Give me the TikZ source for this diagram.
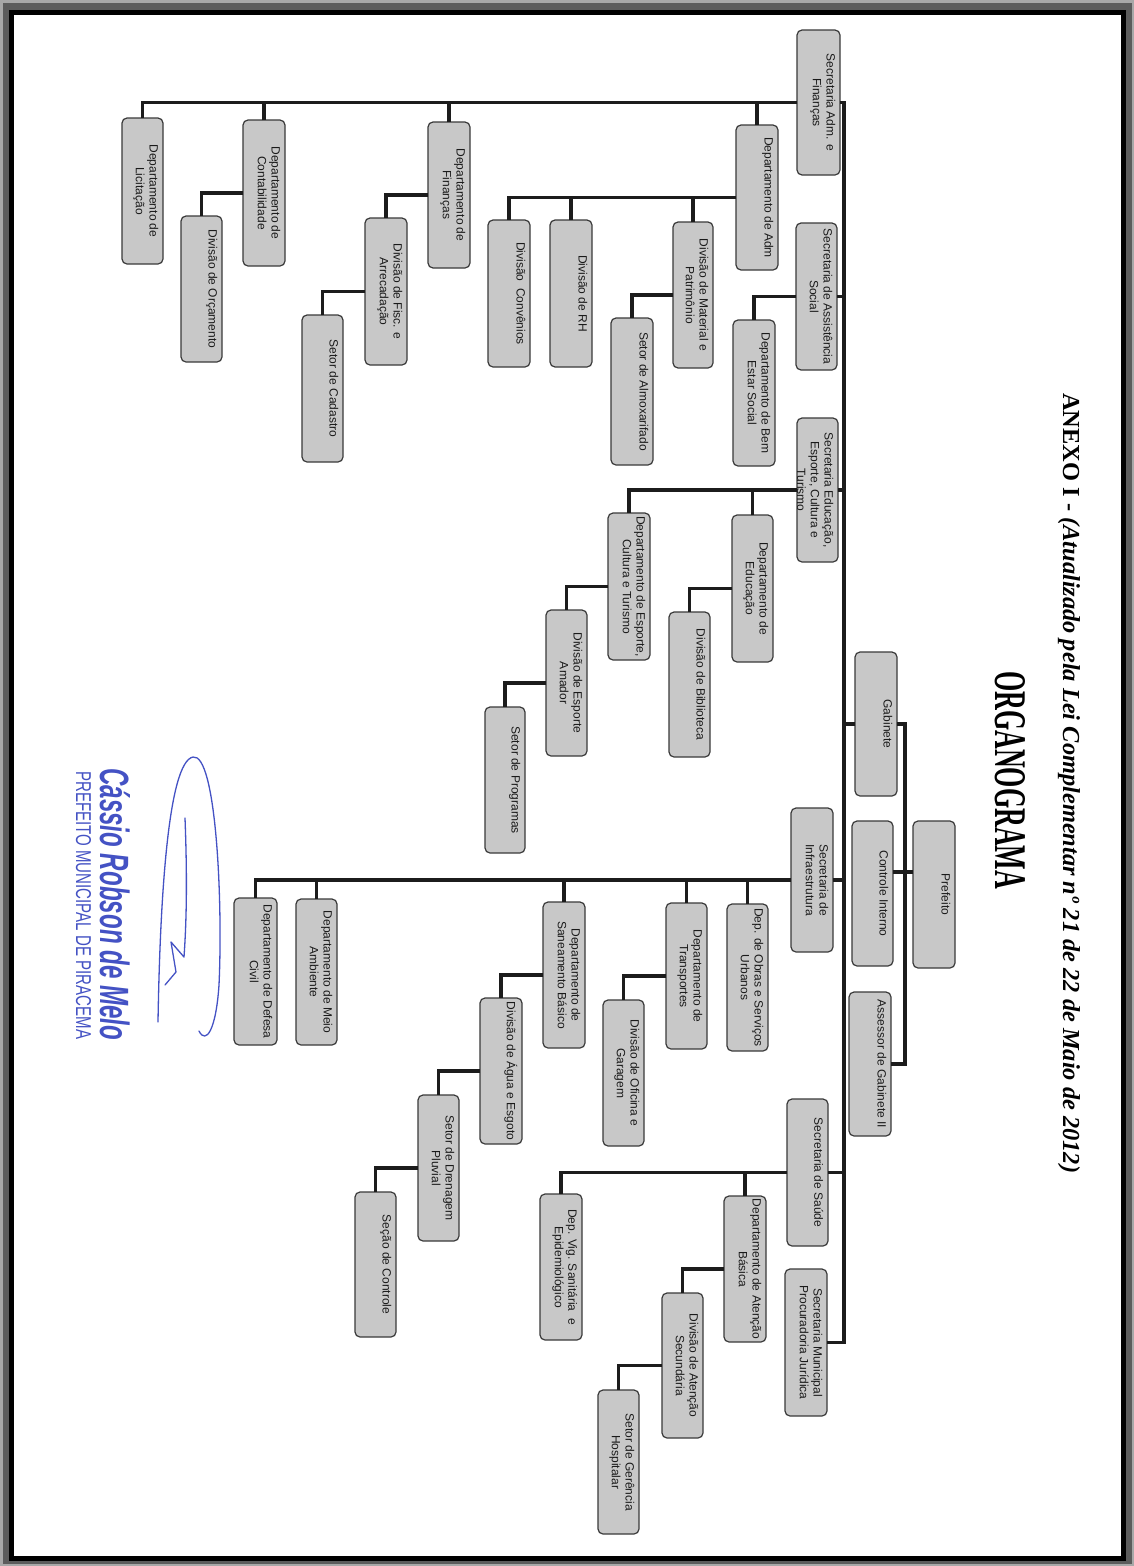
\documentclass[tikz,border=0pt]{standalone}
\usepackage{fontspec}
\setmainfont{Liberation Serif}
\newfontfamily\arialf{Liberation Sans}
\usepackage{graphicx}
\definecolor{boxfill}{HTML}{C8C8C8}
\definecolor{boxline}{HTML}{3A3A3A}
\definecolor{textc}{HTML}{1A1A1A}
\definecolor{linec}{HTML}{1C1C1C}
\definecolor{sigblue}{HTML}{4452C4}
\definecolor{framelight}{HTML}{A8A8A8}
\definecolor{framedark}{HTML}{5C5C5C}
\tikzset{
 bx/.style={draw=boxline, fill=boxfill, line width=1.2pt, rounded corners=5pt, inner sep=0pt, outer sep=0pt},
 tx/.style={rotate=-90, anchor=north, inner sep=0pt, align=center, font=\arialf\fontsize{12}{13.7}\selectfont, text=textc},
 conn/.style={draw=linec, line width=3.2pt},
}
\newcommand\obox[6]{%
 \pgfmathsetmacro\obcx{(#2+#3)/2}%
 \pgfmathsetmacro\obcy{(#4+#5)/2}%
 \pgfmathsetmacro\obw{#3-#2}%
 \pgfmathsetmacro\obh{#5-#4}%
 \node[bx, minimum width=\obw pt, minimum height=\obh pt] (#1) at (\obcx,\obcy) {};
 \begin{scope}
 \clip[rounded corners=5pt] (#1.south west) rectangle (#1.north east);
 \node[tx] (#1t) at ([xshift=-4.5pt]#1.east) {#6};
 \end{scope}}
\begin{document}
\begin{tikzpicture}[x=1pt,y=-1pt]
\useasboundingbox (0,0) rectangle (1134,1566);
% frame
\fill[framelight] (0,0) rectangle (1134,1566);
\fill[framedark] (3,3) rectangle (1132,1564);
\fill[black] (9,10) rectangle (1126,1561);
\fill[white] (14,15) rectangle (1121,1556);

% titles
\node[rotate=-90, anchor=base west, inner sep=0pt] (title) at (1063,393)
 {\resizebox{780pt}{!}{\bfseries ANEXO I - \itshape(Atualizado pela Lei Complementar nº 21 de 22 de Maio de 2012)}};
\node[rotate=-90, anchor=base west, inner sep=0pt] (org) at (995,671)
 {\resizebox{218pt}{30pt}{\bfseries ORGANOGRAMA}};

% top level
\obox{pref}{913}{955}{821}{968}{Prefeito}
\obox{gab}{855}{897}{652}{796}{Gabinete}
\obox{ctrl}{852}{893}{821}{966}{Controle Interno}
\obox{ass}{849}{891}{992}{1136}{Assessor de Gabinete II}

% secretarias
\obox{sAdm}{797}{840}{30}{175}{Secretaria Adm. e\\Finanças}
\obox{sAss}{796}{837}{223}{370}{Secretaria de Assistência\\Social}
\obox{sEdu}{797}{838}{418}{562}{Secretaria Educação,\\Esporte, Cultura e\\Turismo}
\obox{sInf}{791}{833}{808}{952}{Secretaria de\\Infraestrutura}
\obox{sSau}{787}{828}{1099}{1246}{Secretaria de Saúde}
\obox{sProc}{785}{827}{1269}{1416}{Secretaria Municipal\\Procuradoria Jurídica}

% Adm e Finanças
\obox{dLic}{122}{163}{118}{264}{Departamento de\\Licitação}
\obox{dCont}{243}{285}{120}{266}{Departamento de\\Contabilidade}
\obox{dOrc}{181}{222}{216}{362}{Divisão de Orçamento}
\obox{dFin}{428}{470}{122}{268}{Departamento de\\Finanças}
\obox{dFisc}{365}{407}{218}{365}{Divisão de Fisc. e\\Arrecadação}
\obox{sCad}{302}{343}{315}{462}{Setor de Cadastro}
\obox{dAdm}{736}{778}{125}{270}{Departamento de Adm}
\obox{dConv}{488}{530}{220}{367}{Divisão\ \ Convênios}
\obox{dRH}{550}{592}{220}{367}{Divisão de RH}
\obox{dMat}{673}{713}{222}{368}{Divisão de Material e\\Patrimônio}
\obox{sAlm}{611}{653}{318}{465}{Setor de Almoxarifado}
\obox{dBem}{733}{775}{320}{466}{Departamento de Bem\\Estar Social}

% Educacao
\obox{dEdu}{732}{773}{515}{662}{Departamento de\\Educação}
\obox{dBib}{669}{710}{612}{757}{Divisão de Biblioteca}
\obox{dEsp}{608}{650}{513}{660}{Departamento de Esporte,\\Cultura e Turismo}
\obox{dAma}{546}{587}{610}{756}{Divisão de Esporte\\Amador}
\obox{sProg}{485}{525}{707}{853}{Setor de Programas}

% Infraestrutura
\obox{dObr}{727}{768}{904}{1051}{Dep. de Obras e Serviços\\Urbanos}
\obox{dTra}{666}{707}{903}{1049}{Departamento de\\Transportes}
\obox{dOfi}{603}{644}{1000}{1146}{Divisão de Oficina e\\Garagem}
\obox{dSan}{543}{585}{902}{1048}{Departamento de\\Saneamento Básico}
\obox{dAgu}{480}{522}{998}{1144}{Divisão de Água e Esgoto}
\obox{sDre}{418}{459}{1095}{1241}{Setor de Drenagem\\Pluvial}
\obox{sCon}{355}{396}{1192}{1337}{Seção de Controle}
\obox{dMei}{296}{337}{899}{1045}{Departamento de Meio\\Ambiente}
\obox{dDef}{234}{277}{898}{1045}{Departamento de Defesa\\Civil}

% Saude
\obox{dAte}{724}{766}{1196}{1342}{Departamento de Atenção\\Básica}
\obox{dSec}{662}{703}{1293}{1438}{Divisão de Atenção\\Secundária}
\obox{sGer}{598}{639}{1390}{1534}{Setor de Gerência\\Hospitalar}
\obox{dVig}{540}{582}{1194}{1340}{Dep. Vig. Sanitária\ \ e\\Epidemiológico}

% connectors: trunk
\coordinate (tk) at (844,0);
\coordinate (tk2) at (905,0);
\coordinate (jP) at (905,872);
\draw[conn] (sAdm.east) -- (sAdm.east -| tk) -- (sProc.east -| tk) -- (sProc.east);
\foreach \n in {sAss,sEdu,sInf,sSau} \draw[conn] (\n.east) -- (\n.east -| tk);
\draw[conn] (gab.west) -- (gab.west -| tk);
\draw[conn] (gab.east) -- (gab.east -| tk2) -- (ass.east -| tk2) -- (ass.east);
\draw[conn] (ctrl.east |- jP) -- (pref.west |- jP);

% Adm branch
\draw[conn] (sAdm.west) -| (dLic.north);
\foreach \n in {dCont,dFin,dAdm} \draw[conn] (\n.north) -- (\n.north |- sAdm.west);
\draw[conn] (dCont.west) -| (dOrc.north);
\draw[conn] (dFin.west) -| (dFisc.north);
\draw[conn] (dFisc.west) -| (sCad.north);
\draw[conn] (dAdm.west) -| (dConv.north);
\foreach \n in {dRH,dMat} \draw[conn] (\n.north) -- (\n.north |- dAdm.west);
\draw[conn] (dMat.west) -| (sAlm.north);
\draw[conn] (sAss.west) -| (dBem.north);

% Edu branch
\draw[conn] (sEdu.west) -| (dEsp.north);
\draw[conn] (dEdu.north) -- (dEdu.north |- sEdu.west);
\draw[conn] (dEdu.west) -| (dBib.north);
\draw[conn] (dEsp.west) -| (dAma.north);
\draw[conn] (dAma.west) -| (sProg.north);

% Infra branch
\draw[conn] (sInf.west) -| (dDef.north);
\foreach \n in {dObr,dTra,dSan,dMei} \draw[conn] (\n.north) -- (\n.north |- sInf.west);
\draw[conn] (dTra.west) -| (dOfi.north);
\draw[conn] (dSan.west) -| (dAgu.north);
\draw[conn] (dAgu.west) -| (sDre.north);
\draw[conn] (sDre.west) -| (sCon.north);

% Saude branch
\draw[conn] (sSau.west) -| (dVig.north);
\draw[conn] (dAte.north) -- (dAte.north |- sSau.west);
\draw[conn] (dAte.west) -| (dSec.north);
\draw[conn] (dSec.west) -| (sGer.north);

% signature stamp
\node[rotate=-90, anchor=base west, inner sep=0pt, text=sigblue] (sig1) at (100,768)
 {\resizebox{272pt}{30pt}{\arialf\bfseries\itshape Cássio Robson de Melo}};
\node[rotate=-90, anchor=base west, inner sep=0pt, text=sigblue] (sig2) at (76,771)
 {\resizebox{268pt}{15pt}{\arialf PREFEITO MUNICIPAL DE PIRACEMA}};
\draw[sigblue, line width=1.3pt, line cap=round, line join=round]
 (158,1022) .. controls (160,900) and (168,762) .. (193,757)
 .. controls (216,753) and (223,900) .. (219,985)
 .. controls (216,1030) and (206,1045) .. (199,1031);
\draw[sigblue, line width=1.3pt, line cap=round, line join=round]
 (185,818) .. controls (187,870) and (187,915) .. (184,957)
 -- (171,942) -- (176,972) -- (165,985);
\end{tikzpicture}
\end{document}
